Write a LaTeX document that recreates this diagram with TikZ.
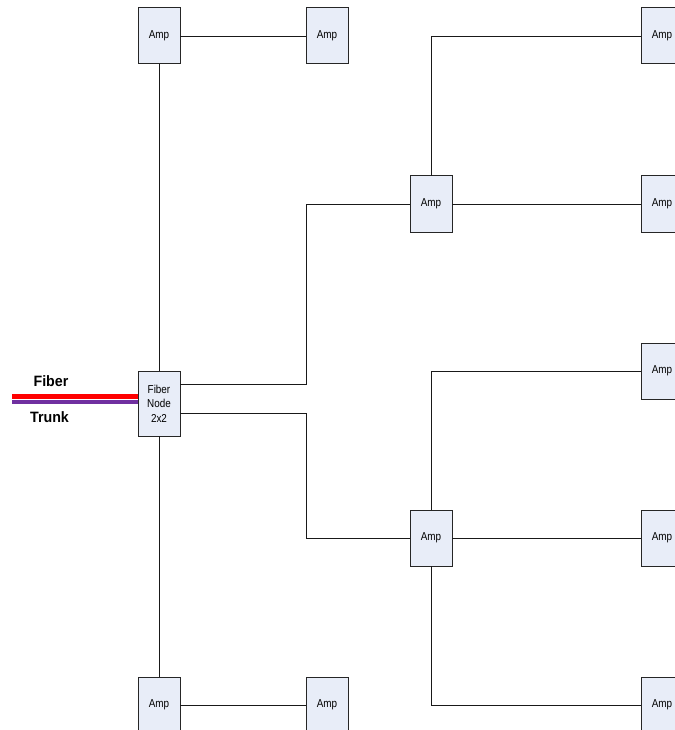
\documentclass[tikz,border=0pt]{standalone}
\usepackage{fontspec}
\setmainfont{Liberation Sans}
\newfontfamily\narrowfont[FakeStretch=0.86]{Liberation Sans}
\newfontfamily\lblfont[FakeStretch=0.95]{Liberation Sans}
\definecolor{boxfill}{HTML}{E8EDF8}
\definecolor{fiberred}{HTML}{FF0000}
\definecolor{fiberpurple}{HTML}{7030A0}
\begin{document}
\begin{tikzpicture}[x=1pt,y=-1pt,
  amp/.style={draw=black!85,line width=1pt,fill=boxfill,minimum width=42pt,minimum height=56pt,inner sep=0pt,outer sep=0pt,font=\narrowfont\fontsize{11.5}{13}\selectfont},
  fnode/.style={amp,minimum height=65pt,align=center,font=\narrowfont\fontsize{11.5}{14.5}\selectfont},
  wire/.style={draw=black!90,line width=0.8pt},
  lbl/.style={font=\lblfont\fontsize{15}{17}\selectfont\bfseries,inner sep=0pt}]
\useasboundingbox (0,0) rectangle (674,730);
% nodes
\node[amp] (a1) at (159,36) {Amp};
\node[amp] (a2) at (327,36) {Amp};
\node[fnode] (fn) at (159,403.5) {Fiber\\Node\\2x2};
\node[amp] (a3) at (159,705) {Amp};
\node[amp] (a4) at (327,705) {Amp};
\node[amp] (mu) at (431,204) {Amp};
\node[amp] (ml) at (431,538) {Amp};
\node[amp] (r1) at (662,36) {Amp};
\node[amp] (r2) at (662,204) {Amp};
\node[amp] (r3) at (662,371) {Amp};
\node[amp] (r4) at (662,538) {Amp};
\node[amp] (r5) at (662,705) {Amp};
% labels
\node[lbl] (fl) at (51,381.5) {Fiber};
\node[lbl] (tl) at (49.5,417) {Trunk};
% fiber trunk
\coordinate (fs) at (12,396.5);
\coordinate (ps) at (12,402);
\draw[fiberred,line width=4.5pt] (fs) -- (fn.west |- fs);
\draw[fiberpurple,line width=4.5pt] (ps) -- (fn.west |- ps);
% connectors
\coordinate (j1) at (306,384);
\coordinate (j2) at (306,413);
\path[wire] (a1) -- (a2);
\path[wire] (a1.south) -- (fn.north);
\path[wire] (fn.south) -- (a3.north);
\path[wire] (a3) -- (a4);
\path[wire] (fn.east |- j1) -- (j1) |- (mu.west);
\path[wire] (fn.east |- j2) -- (j2) |- (ml.west);
\path[wire] (mu.north) |- (r1.west);
\path[wire] (mu.east) -- (r2.west);
\path[wire] (ml.north) |- (r3.west);
\path[wire] (ml.east) -- (r4.west);
\path[wire] (ml.south) |- (r5.west);
\end{tikzpicture}
\end{document}
